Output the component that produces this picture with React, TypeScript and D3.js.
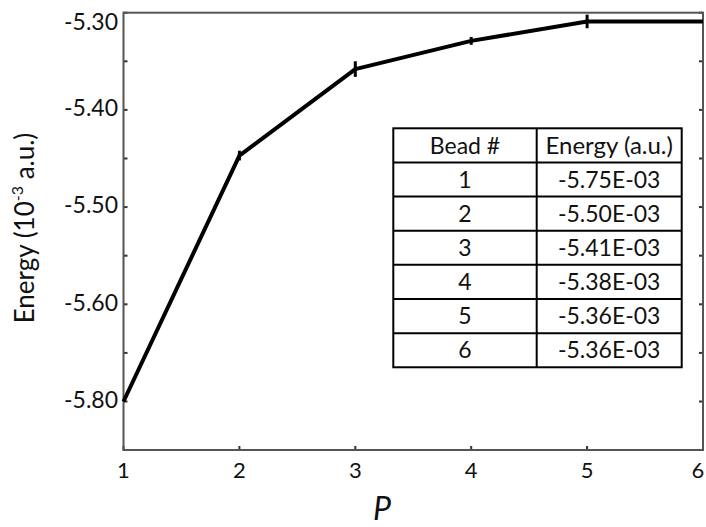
import React from "react";
import * as d3 from "d3";

const P = [1, 2, 3, 4, 5, 6];
const energy = [-5.8, -5.447, -5.358, -5.329, -5.309, -5.309];
const energyErr = [0, 0.005, 0.008, 0.004, 0.007, 0];
const yTickValues = [-5.3, -5.4, -5.5, -5.6, -5.8];
const yTickLabels = ["-5.30", "-5.40", "-5.50", "-5.60", "-5.80"];
const yMinorTicks = [-5.35, -5.45, -5.55, -5.7, -5.9];
const xTickValues = [1, 2, 3, 4, 5, 6];
const tableHeader = ["Bead #", "Energy (a.u.)"];
const beads = ["1", "2", "3", "4", "5", "6"];
const beadEnergies = ["-5.75E-03", "-5.50E-03", "-5.41E-03", "-5.38E-03", "-5.36E-03", "-5.36E-03"];

const W = 706;
const H = 527;
const left = 123.5;
const right = 703;
const top = 12.7;
const bottom = 450;
const font = "Lato, 'Open Sans', sans-serif";

export default function App() {
  const x = d3.scaleLinear().domain([1, 6]).range([left, right]);
  // axis as printed: piecewise linear between the printed labels
  const y = d3
    .scaleLinear()
    .domain([-5.9, -5.8, -5.6, -5.3])
    .range([bottom, 401.5, 304.3, top]);

  const line = d3
    .line<number>()
    .x((_, i) => x(P[i]))
    .y((d) => y(d));

  const tX0 = 393.3;
  const tX1 = 536.7;
  const tX2 = 681.7;
  const tY0 = 128.3;
  const rowH = 34.14;
  const rows = [tableHeader, ...beads.map((b, i) => [b, beadEnergies[i]])];

  return (
    <svg
      width={W}
      height={H}
      style={{ position: "absolute", left: 0, top: 0, background: "#fff" }}
      fontFamily={font}
    >
      <rect x={0} y={0} width={W} height={H} fill="#fff" />
      {/* y ticks */}
      {[...yTickValues, ...yMinorTicks].map((v, i) => (
        <g key={"yt" + i}>
          <line x1={left} x2={left + 4} y1={y(v)} y2={y(v)} stroke="#333" strokeWidth={2} />
          <line x1={right} x2={right - 4} y1={y(v)} y2={y(v)} stroke="#333" strokeWidth={2} />
        </g>
      ))}
      {yTickValues.map((v, i) => (
        <text
          key={"yl" + i}
          x={118}
          y={v === -5.3 ? y(v) + 9 : y(v) - 2}
          dy="0.36em"
          textAnchor="end"
          fontSize={23}
          fill="#111"
        >
          {yTickLabels[i]}
        </text>
      ))}
      {/* x ticks */}
      {xTickValues.map((v) => (
        <g key={"xt" + v}>
          <line x1={x(v)} x2={x(v)} y1={bottom} y2={bottom - 4} stroke="#333" strokeWidth={2} />
          <text
            x={Math.min(x(v), W - 8)}
            y={470}
            dy="0.36em"
            textAnchor="middle"
            fontSize={22}
            fill="#111"
          >
            {v}
          </text>
        </g>
      ))}
      {/* frame */}
      <rect
        x={left}
        y={top}
        width={right - left}
        height={bottom - top}
        fill="none"
        stroke="#555"
        strokeWidth={2}
      />
      {/* data line */}
      <path d={line(energy) || ""} fill="none" stroke="#000" strokeWidth={4} strokeLinejoin="round" />
      {energy.map((e, i) =>
        energyErr[i] > 0 ? (
          <line
            key={"eb" + i}
            x1={x(P[i])}
            x2={x(P[i])}
            y1={y(e - energyErr[i])}
            y2={y(e + energyErr[i])}
            stroke="#000"
            strokeWidth={3}
          />
        ) : null
      )}
      {/* table */}
      <rect x={tX0} y={tY0} width={tX2 - tX0} height={rowH * rows.length} fill="#fff" stroke="#000" strokeWidth={2} />
      {rows.map((r, i) => (
        <g key={"row" + i}>
          {i > 0 && (
            <line x1={tX0} x2={tX2} y1={tY0 + rowH * i} y2={tY0 + rowH * i} stroke="#000" strokeWidth={2} />
          )}
          <text
            x={(tX0 + tX1) / 2}
            y={tY0 + rowH * (i + 0.5)}
            dy="0.36em"
            textAnchor="middle"
            fontSize={23}
            fill="#111"
          >
            {r[0]}
          </text>
          <text
            x={(tX1 + tX2) / 2}
            y={tY0 + rowH * (i + 0.5)}
            dy="0.36em"
            textAnchor="middle"
            fontSize={i === 0 ? 24 : 23}
            fill="#111"
          >
            {r[1]}
          </text>
        </g>
      ))}
      <line x1={tX1} x2={tX1} y1={tY0} y2={tY0 + rowH * rows.length} stroke="#000" strokeWidth={2} />
      {/* axis titles */}
      <text
        transform={`translate(34, 228) rotate(-90)`}
        textAnchor="middle"
        fontSize={26}
        fill="#111"
      >
        Energy (10
        <tspan fontSize={16} dy={-11}>
          -3
        </tspan>
        <tspan dy={11}> a.u.)</tspan>
      </text>
      <text x={382} y={520} textAnchor="middle" fontSize={32} fontStyle="italic" fill="#111">
        P
      </text>
    </svg>
  );
}
